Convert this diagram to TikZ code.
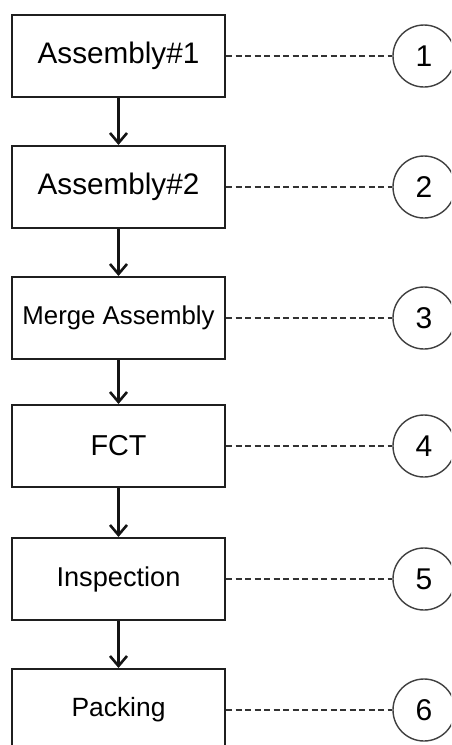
\documentclass[tikz,border=0pt]{standalone}
\usepackage{fontspec}
\setmainfont{Liberation Sans}
\usetikzlibrary{arrows.meta}

\tikzset{
  x=1pt, y=-1pt,
  stagebox/.style={draw=black!88, line width=2pt, fill=white,
    minimum width=213pt, minimum height=82pt, inner sep=0pt, text=black},
  stepnum/.style={circle, draw=black!75, line width=1.4pt, fill=white,
    minimum size=62pt, inner sep=0pt, text=black,
    font=\fontsize{30}{31}\selectfont},
  flow/.style={line width=2.6pt, black!92,
    -{Straight Barb[length=10pt,width=17pt,line width=2.6pt]}},
  link/.style={line width=1.4pt, black!80, dash pattern=on 6pt off 3.5pt},
}

\begin{document}
\begin{tikzpicture}
  \useasboundingbox (0,0) rectangle (451,745);
  \clip (0,0) rectangle (451,745);

  % process stages
  \node[stagebox, font=\fontsize{29.7}{30}\selectfont] (s1) at (118.5,56)  {Assembly\#1};
  \node[stagebox, font=\fontsize{29.7}{30}\selectfont] (s2) at (118.5,187) {Assembly\#2};
  \node[stagebox, font=\fontsize{25.8}{27}\selectfont] (s3) at (118.5,318) {Merge Assembly};
  \node[stagebox, font=\fontsize{28.8}{30}\selectfont] (s4) at (118.5,446) {FCT};
  \node[stagebox, font=\fontsize{27.2}{28}\selectfont] (s5) at (118.5,579) {Inspection};
  \node[stagebox, font=\fontsize{26.4}{28}\selectfont] (s6) at (118.5,710) {Packing};

  % step numbers
  \node[stepnum] (n1) at (424,56)  {1};
  \node[stepnum] (n2) at (424,187) {2};
  \node[stepnum] (n3) at (424,318) {3};
  \node[stepnum] (n4) at (424,446) {4};
  \node[stepnum] (n5) at (424,579) {5};
  \node[stepnum] (n6) at (424,710) {6};

  % flow between stages
  \draw[flow] (s1.south) -- (s2.north);
  \draw[flow] (s2.south) -- (s3.north);
  \draw[flow] (s3.south) -- (s4.north);
  \draw[flow] (s4.south) -- (s5.north);
  \draw[flow] (s5.south) -- (s6.north);

  % stage-to-number links
  \foreach \i in {1,...,6}
    \draw[link] (s\i.east) -- (n\i.west);
\end{tikzpicture}
\end{document}
